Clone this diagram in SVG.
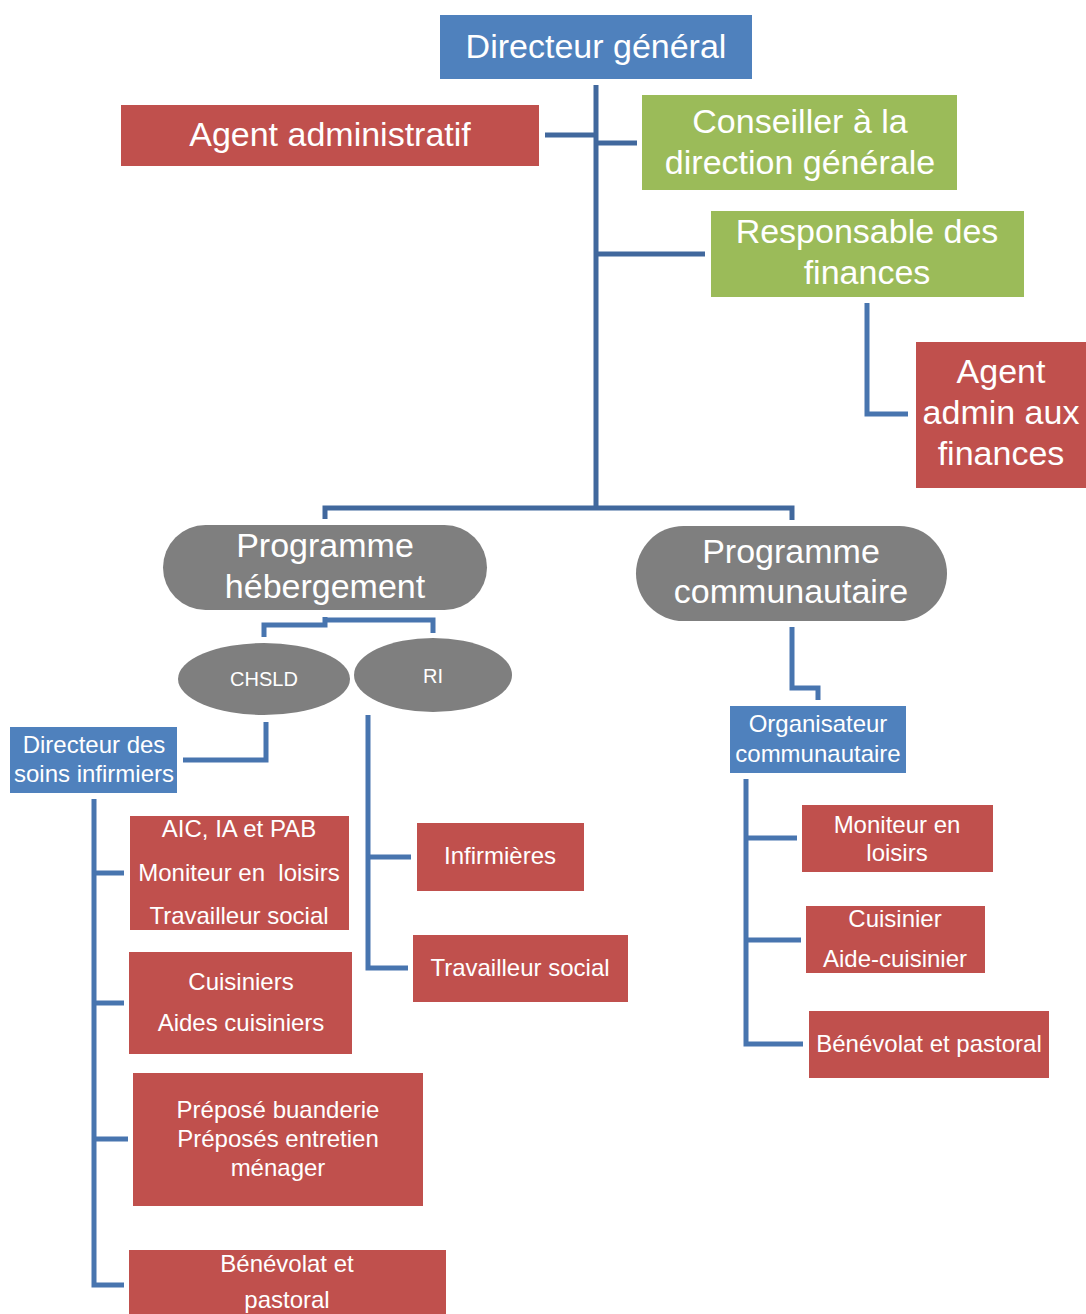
<svg xmlns="http://www.w3.org/2000/svg" width="1086" height="1314" viewBox="0 0 1086 1314">
<style>
.blue{fill:#4F81BD}
.red{fill:#C0504D}
.green{fill:#9BBB59}
.grey{fill:#7F7F7F}
text{fill:#FFFFFF;font-family:"Liberation Sans",Arial,sans-serif;text-anchor:middle}
.big{font-size:34px}
.sm{font-size:24px}
.md{font-size:20px}
.ln{fill:none;stroke:#41689D;stroke-width:5;stroke-linejoin:miter}
.ln2{fill:none;stroke:#4875AF;stroke-width:5;stroke-linejoin:miter}
</style>
<rect width="1086" height="1314" fill="#FFFFFF"/>
<g id="connectors">
<path class="ln" d="M596,85 V508"/>
<path class="ln" d="M545,135 H596"/>
<path class="ln" d="M596,143 H637"/>
<path class="ln" d="M596,254 H705"/>
<path class="ln2" d="M867,303 V414 H908"/>
<path class="ln" d="M325,519 V508 H792 V520"/>
<path class="ln2" d="M325,617 V625 H264 V637"/>
<path class="ln2" d="M325,620 H433 V633"/>
<path class="ln2" d="M266,722 V760 H183"/>
<path class="ln2" d="M94,799 V1285 H124"/>
<path class="ln2" d="M94,873 H124"/>
<path class="ln2" d="M94,1003 H124"/>
<path class="ln2" d="M94,1139 H128"/>
<path class="ln2" d="M368,715 V968 H408"/>
<path class="ln2" d="M368,857 H411"/>
<path class="ln2" d="M792,627 V688 H818 V700"/>
<path class="ln2" d="M746,779 V1044 H803"/>
<path class="ln2" d="M746,838 H797"/>
<path class="ln2" d="M746,940 H801"/>
</g>
<g id="directeur-general">
<rect class="blue" x="440" y="15" width="312" height="64"/>
<text class="big" x="596" y="58">Directeur général</text>
</g>
<g id="agent-administratif">
<rect class="red" x="121" y="105" width="418" height="61"/>
<text class="big" x="330" y="146">Agent administratif</text>
</g>
<g id="conseiller">
<rect class="green" x="642" y="95" width="315" height="95"/>
<text class="big" x="800" y="133">Conseiller à la</text>
<text class="big" x="800" y="174">direction générale</text>
</g>
<g id="responsable-finances">
<rect class="green" x="711" y="211" width="313" height="86"/>
<text class="big" x="867" y="243">Responsable des</text>
<text class="big" x="867" y="284">finances</text>
</g>
<g id="agent-admin-finances">
<rect class="red" x="916" y="342" width="170" height="146"/>
<text class="big" x="1001" y="383">Agent</text>
<text class="big" x="1001" y="424">admin aux</text>
<text class="big" x="1001" y="465">finances</text>
</g>
<g id="programme-hebergement">
<rect class="grey" x="163" y="525" width="324" height="85" rx="42.5"/>
<text class="big" x="325" y="557">Programme</text>
<text class="big" x="325" y="598">hébergement</text>
</g>
<g id="programme-communautaire">
<rect class="grey" x="636" y="526" width="311" height="95" rx="47.5"/>
<text class="big" x="791" y="563">Programme</text>
<text class="big" x="791" y="603">communautaire</text>
</g>
<g id="chsld">
<ellipse class="grey" cx="264" cy="679" rx="86" ry="36"/>
<text class="md" x="264" y="686">CHSLD</text>
</g>
<g id="ri">
<ellipse class="grey" cx="433" cy="675" rx="79" ry="37"/>
<text class="md" x="433" y="683">RI</text>
</g>
<g id="directeur-soins">
<rect class="blue" x="10" y="727" width="167" height="66"/>
<text class="sm" x="94" y="753">Directeur des</text>
<text class="sm" x="94" y="782">soins infirmiers</text>
</g>
<g id="aic">
<rect class="red" x="130" y="816" width="219" height="114"/>
<text class="sm" x="239" y="837">AIC, IA et PAB</text>
<text class="sm" x="239" y="881" xml:space="preserve">Moniteur en  loisirs</text>
<text class="sm" x="239" y="924">Travailleur social</text>
</g>
<g id="cuisiniers">
<rect class="red" x="129" y="952" width="223" height="102"/>
<text class="sm" x="241" y="990">Cuisiniers</text>
<text class="sm" x="241" y="1031">Aides cuisiniers</text>
</g>
<g id="preposes">
<rect class="red" x="133" y="1073" width="290" height="133"/>
<text class="sm" x="278" y="1118">Préposé buanderie</text>
<text class="sm" x="278" y="1147">Préposés entretien</text>
<text class="sm" x="278" y="1176">ménager</text>
</g>
<g id="benevolat-hebergement">
<rect class="red" x="129" y="1250" width="317" height="70"/>
<text class="sm" x="287" y="1272">Bénévolat et</text>
<text class="sm" x="287" y="1308">pastoral</text>
</g>
<g id="infirmieres">
<rect class="red" x="417" y="823" width="167" height="68"/>
<text class="sm" x="500" y="864">Infirmières</text>
</g>
<g id="travailleur-social-ri">
<rect class="red" x="413" y="935" width="215" height="67"/>
<text class="sm" x="520" y="976">Travailleur social</text>
</g>
<g id="organisateur">
<rect class="blue" x="730" y="706" width="176" height="67"/>
<text class="sm" x="818" y="732">Organisateur</text>
<text class="sm" x="818" y="762">communautaire</text>
</g>
<g id="moniteur-loisirs">
<rect class="red" x="802" y="805" width="191" height="67"/>
<text class="sm" x="897" y="833">Moniteur en</text>
<text class="sm" x="897" y="861">loisirs</text>
</g>
<g id="cuisinier">
<rect class="red" x="806" y="906" width="179" height="67"/>
<text class="sm" x="895" y="927">Cuisinier</text>
<text class="sm" x="895" y="967">Aide-cuisinier</text>
</g>
<g id="benevolat-communautaire">
<rect class="red" x="809" y="1011" width="240" height="67"/>
<text class="sm" x="929" y="1052">Bénévolat et pastoral</text>
</g>
</svg>
